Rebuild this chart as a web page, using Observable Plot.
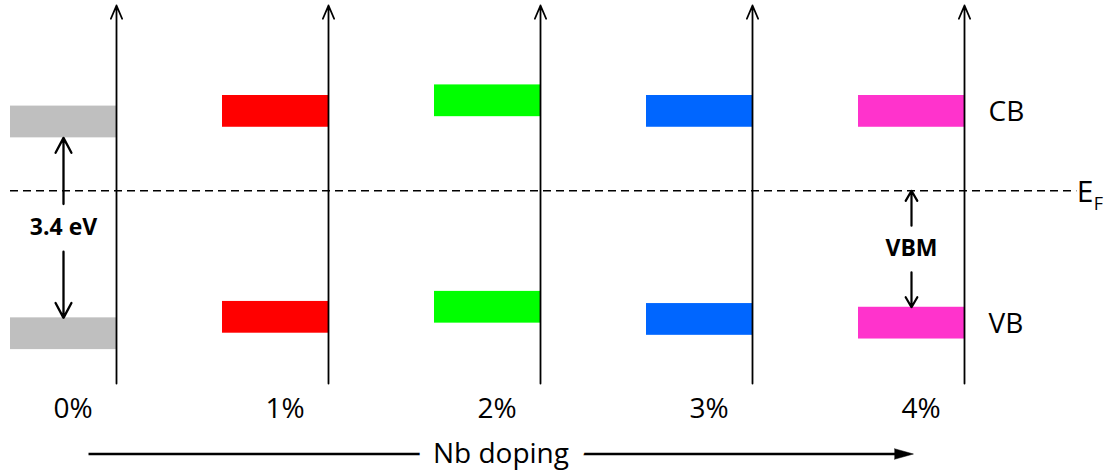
<!DOCTYPE html>
<html><head><meta charset="utf-8">
<script src="https://cdn.jsdelivr.net/npm/d3@7"></script>
<script src="https://cdn.jsdelivr.net/npm/@observablehq/plot@0.6"></script>
<style>body{margin:0;background:#fff}</style>
</head><body><div id="chart"></div>
<script>
// ---- data ----
const doping = [0, 1, 2, 3, 4];                 // Nb doping (%)
const dopingLabels = ["0%", "1%", "2%", "3%", "4%"];
const cbm = [1.0, 1.2, 1.4, 1.2, 1.2];           // conduction band minimum (eV vs E_F)
const vbm = [-2.4, -2.09, -1.9, -2.13, -2.2];    // valence band maximum (eV vs E_F)
const bandNames = ["CB", "VB"];
const axisTitle = "Nb doping";
const fermiLevel = 0;

// ---- layout / style constants ----
const bandColors = ["#bfbfbf", "#ff0000", "#00ff00", "#0066ff", "#ff33cc"];
const bandThickness = 0.6;     // eV
const barWidth = 0.5;          // doping units
const eMin = -3.64, eMax = 3.5; // energy extent of the axes
const fermiExtent = [-0.5, 4.53];
const dopingArrow = [-0.132, 3.759];

const bands = doping.flatMap((d, i) => [
  {doping: d, lo: cbm[i], hi: cbm[i] + bandThickness, color: bandColors[i]},
  {doping: d, lo: vbm[i] - bandThickness, hi: vbm[i], color: bandColors[i]}
]);

const gapMid = (cbm[0] + vbm[0]) / 2;
const vbmMid = (fermiLevel + vbm[4]) / 2;
const xGap = doping[0] - barWidth / 2;
const xVbm = doping[4] - barWidth / 2;
const gapArrows = [
  {x: xGap, y1: gapMid + 0.45, y2: cbm[0]},
  {x: xGap, y1: gapMid - 0.45, y2: vbm[0]}
];
const vbmArrows = [
  {x: xVbm, y1: vbmMid + 0.44, y2: fermiLevel},
  {x: xVbm, y1: vbmMid - 0.44, y2: vbm[4]}
];

const chart = Plot.plot({
  width: 1112, height: 476,
  marginTop: 5, marginBottom: 93, marginLeft: 116, marginRight: 148,
  x: {domain: [0, 4], axis: null},
  y: {domain: [eMin, eMax], axis: null},
  color: {type: "identity"},
  style: {fontFamily: "Open Sans", background: "white", color: "black", overflow: "visible"},
  marks: [
    Plot.rect(bands, {x1: d => d.doping - barWidth, x2: "doping", y1: "lo", y2: "hi", fill: "color"}),
    Plot.ruleY([fermiLevel], {x1: fermiExtent[0], x2: fermiExtent[1], stroke: "black", strokeWidth: 1.5, strokeDasharray: "8,5"}),
    Plot.arrow(doping, {x1: d => d, x2: d => d, y1: eMin, y2: eMax, stroke: "black", strokeWidth: 1.8, headLength: 12, headAngle: 46}),
    Plot.arrow(gapArrows, {x1: "x", x2: "x", y1: "y1", y2: "y2", stroke: "black", strokeWidth: 2.3, headLength: 11, headAngle: 56}),
    Plot.arrow(vbmArrows, {x1: "x", x2: "x", y1: "y1", y2: "y2", stroke: "black", strokeWidth: 2.2, headLength: 11, headAngle: 60}),
    Plot.text([`${(cbm[0] - vbm[0]).toFixed(1)} eV`], {x: xGap, y: gapMid, text: d => d, fontWeight: "bold", fontSize: 23}),
    Plot.text(["VBM"], {x: xVbm, y: vbmMid, text: d => d, fontWeight: "bold", fontSize: 23}),
    Plot.text(bandNames, {
      x: doping[4],
      y: d => d === "CB" ? cbm[4] + bandThickness / 2 : vbm[4] - bandThickness / 2,
      text: d => d, textAnchor: "start", dx: 24, dy: 1, fontSize: 28
    }),
    Plot.text(["E"], {x: fermiExtent[1], y: fermiLevel, text: d => d, textAnchor: "start", fontSize: 30, dy: 2}),
    Plot.text(["F"], {x: fermiExtent[1], y: fermiLevel, text: d => d, textAnchor: "start", fontSize: 18, dx: 17, dy: 13}),
    Plot.axisX(doping, {anchor: "bottom", tickSize: 0, tickPadding: 15, dx: -43.5, fontSize: 28,
      tickFormat: d => dopingLabels[doping.indexOf(d)], label: null}),
    Plot.link([axisTitle], {x1: dopingArrow[0], x2: dopingArrow[1] - 0.03, y1: eMin, y2: eMin, dy: 70.5, stroke: "black", strokeWidth: 2.6}),
    Plot.vector([axisTitle], {x: dopingArrow[1], y: eMin, dy: 70.5, length: 19, rotate: 90, shape: "spike", r: 5.3, anchor: "end", fill: "black", stroke: "black", strokeWidth: 0.5}),
    Plot.text([axisTitle], {x: (dopingArrow[0] + dopingArrow[1]) / 2, y: eMin, dy: 70.5, text: d => d, fontSize: 28, fill: "black", stroke: "white", strokeWidth: 32})
  ]
});
document.getElementById("chart").appendChild(chart);
</script>
</body></html>
